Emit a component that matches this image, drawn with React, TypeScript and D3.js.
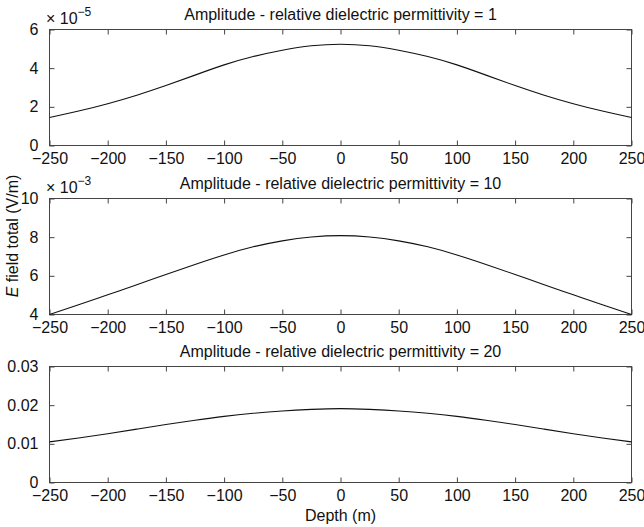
import React, { useEffect, useRef } from 'react';
import * as d3 from 'd3';

// Depth samples (m)
const depth = [-250, -225, -200, -175, -150, -125, -100, -75, -50, -25, 0, 25, 50, 75, 100, 125, 150, 175, 200, 225, 250];

// Amplitude for relative permittivity = 1 (x 1e-5 V/m)
const ampEps1 = [1.45, 1.78, 2.16, 2.6, 3.1, 3.64, 4.17, 4.6, 4.93, 5.16, 5.24, 5.16, 4.93, 4.6, 4.17, 3.64, 3.1, 2.6, 2.16, 1.78, 1.45];
// Amplitude for relative permittivity = 10 (x 1e-3 V/m)
const ampEps10 = [4.0, 4.5, 5.02, 5.54, 6.07, 6.59, 7.08, 7.5, 7.81, 8.01, 8.08, 8.01, 7.81, 7.5, 7.08, 6.59, 6.07, 5.54, 5.02, 4.5, 4.0];
// Amplitude for relative permittivity = 20 (V/m)
const ampEps20 = [0.0105, 0.0115, 0.0126, 0.0138, 0.015, 0.0161, 0.0171, 0.0179, 0.0185, 0.0189, 0.0191, 0.0189, 0.0185, 0.0179, 0.0171, 0.0161, 0.015, 0.0138, 0.0126, 0.0115, 0.0105];

const xTicks = [-250, -200, -150, -100, -50, 0, 50, 100, 150, 200, 250];
const yTicks1 = [0, 2, 4, 6];
const yTicks10 = [4, 6, 8, 10];
const yTicks20 = [0, 0.01, 0.02, 0.03];

const titles = [
  'Amplitude - relative dielectric permittivity = 1',
  'Amplitude - relative dielectric permittivity = 10',
  'Amplitude - relative dielectric permittivity = 20',
];

const App = () => {
  const ref = useRef<SVGSVGElement>(null);

  useEffect(() => {
    const svg = d3.select(ref.current);
    svg.selectAll('*').remove();

    const left = 49.5;
    const right = 631.5;
    const font = '"Liberation Sans", Arial, Helvetica, sans-serif';
    const fs = '16px';
    const axisColor = '#444';

    const panels = [
      { top: 29.5, bottom: 145.5, values: ampEps1, ticks: yTicks1, domain: [0, 6], exp: '−5', fmt: (d: number) => String(d) },
      { top: 198.5, bottom: 314.5, values: ampEps10, ticks: yTicks10, domain: [4, 10], exp: '−3', fmt: (d: number) => String(d) },
      { top: 366.5, bottom: 482.5, values: ampEps20, ticks: yTicks20, domain: [0, 0.03], exp: null, fmt: (d: number) => (d === 0 ? '0' : d3.format('.2f')(d)) },
    ];

    const x = d3.scaleLinear().domain([-250, 250]).range([left, right]);

    panels.forEach((p, i) => {
      const y = d3.scaleLinear().domain(p.domain).range([p.bottom, p.top]);
      const g = svg.append('g');

      // frame
      g.append('rect')
        .attr('x', left).attr('y', p.top)
        .attr('width', right - left).attr('height', p.bottom - p.top)
        .attr('fill', 'white').attr('stroke', axisColor).attr('stroke-width', 1);

      // x ticks (bottom & top, inward)
      const xb = g.append('g').attr('transform', `translate(0,${p.bottom})`)
        .call(d3.axisBottom(x).tickValues(xTicks).tickSizeInner(-5).tickSizeOuter(0).tickPadding(7.5).tickFormat(d3.format('d')));
      const xt = g.append('g').attr('transform', `translate(0,${p.top})`)
        .call(d3.axisTop(x).tickValues(xTicks).tickSizeInner(-5).tickSizeOuter(0).tickFormat(() => ''));
      // y ticks (left & right, inward)
      const yl = g.append('g').attr('transform', `translate(${left},0)`)
        .call(d3.axisLeft(y).tickValues(p.ticks).tickSizeInner(-5).tickSizeOuter(0).tickPadding(11).tickFormat((d) => p.fmt(d as number)));
      const yr = g.append('g').attr('transform', `translate(${right},0)`)
        .call(d3.axisRight(y).tickValues(p.ticks).tickSizeInner(-5).tickSizeOuter(0).tickFormat(() => ''));

      [xb, xt, yl, yr].forEach((a) => {
        a.select('.domain').remove();
        a.selectAll('line').attr('stroke', axisColor);
        a.selectAll('text').attr('fill', '#111').style('font-family', font).style('font-size', fs);
      });

      // curve
      const line = d3.line<number>()
        .x((_, k) => x(depth[k]))
        .y((d) => y(d))
        .curve(d3.curveNatural);
      g.append('path')
        .datum(p.values)
        .attr('d', line)
        .attr('fill', 'none')
        .attr('stroke', '#111')
        .attr('stroke-width', 1.1);

      // title
      g.append('text')
        .attr('x', (left + right) / 2).attr('y', p.top - 9.5)
        .attr('text-anchor', 'middle')
        .style('font-family', font).style('font-size', fs).attr('fill', '#111')
        .text(titles[i]);

      // exponent label
      if (p.exp) {
        const t = g.append('text')
          .attr('x', 46).attr('y', p.top - 5.5)
          .style('font-family', font).style('font-size', fs).attr('fill', '#111');
        t.append('tspan').text('× 10');
        t.append('tspan').attr('dy', -8).style('font-size', '12px').text(p.exp);
      }
    });

    // axis labels
    svg.append('text')
      .attr('x', (left + right) / 2).attr('y', 521)
      .attr('text-anchor', 'middle')
      .style('font-family', font).style('font-size', fs).attr('fill', '#111')
      .text('Depth (m)');

    const ylab = svg.append('text')
      .attr('transform', 'translate(18,236) rotate(-90)')
      .attr('text-anchor', 'middle')
      .style('font-family', font).style('font-size', fs).attr('fill', '#111');
    ylab.append('tspan').style('font-style', 'italic').text('E');
    ylab.append('tspan').text(' field total (V/m)');
  }, []);

  return (
    <svg ref={ref} width={644} height={527} style={{ position: 'absolute', left: 0, top: 0, background: 'white' }} />
  );
};

export default App;
